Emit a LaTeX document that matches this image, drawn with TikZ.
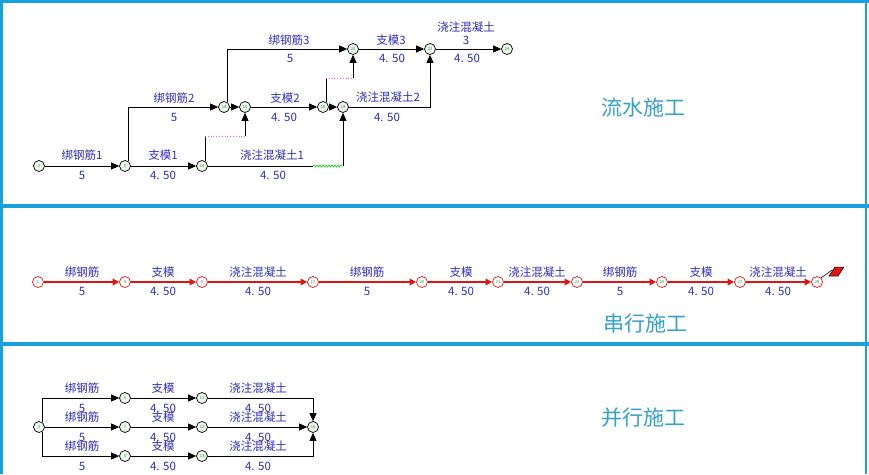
\documentclass[tikz,border=0pt]{standalone}
\usepackage{fontspec}
\newfontfamily\cjk{Noto Sans CJK SC}
\usetikzlibrary{arrows.meta,decorations.pathmorphing}
\definecolor{lblue}{RGB}{45,45,190}
\definecolor{ttl}{RGB}{55,160,200}
\definecolor{frame}{RGB}{25,160,222}
\definecolor{dred}{RGB}{225,20,20}
\definecolor{dpink}{RGB}{235,90,200}
\definecolor{wgreen}{RGB}{60,200,60}
\definecolor{nfill}{RGB}{235,248,235}
\definecolor{ntext}{RGB}{40,140,60}
\begin{document}
\begin{tikzpicture}[x=1pt,y=-1pt,
 ev/.style={circle,draw=black,line width=0.7pt,fill=nfill,minimum size=11pt,inner sep=0pt,font=\cjk\fontsize{4}{4}\selectfont,text=ntext},
 evr/.style={ev,draw=dred,fill=white},
 act/.style={draw=black,line width=0.8pt,-{Triangle[length=8pt,width=7pt]}},
 plain/.style={draw=black,line width=0.8pt},
 ract/.style={draw=dred,line width=2pt,-{Triangle[length=6.5pt,width=6.5pt]}},
 dummy/.style={draw=dpink,line width=0.8pt,dotted},
 wavy/.style={draw=wgreen,line width=0.8pt,decorate,decoration={snake,amplitude=1pt,segment length=3pt}},
 lbl/.style={font=\cjk\fontsize{11.5}{12}\selectfont,text=lblue,inner sep=0pt},
 title/.style={font=\cjk\fontsize{21}{24}\selectfont,text=ttl,inner sep=0pt},
 frm/.style={draw=frame,line width=4pt}
]
\useasboundingbox (0,0) rectangle (869,474);
\fill[white] (0,0) rectangle (869,474);
% frames
\draw[frm,line width=2.7pt] (0,1.3) -- (869,1.3);
\draw[frm] (0,205.5) -- (869,205.5);
\draw[frm] (0,344) -- (869,344);
\draw[frm,line width=3pt] (1.5,0) -- (1.5,474);
\draw[frm,line width=2.5pt] (866,0) -- (866,474);

% ---------- top panel: flow construction ----------
\node[ev] (n2)  at (39,166) {2};
\node[ev] (n5)  at (125,166) {5};
\node[ev] (n10) at (202,166) {10};
\node[ev] (n14) at (224,107) {14};
\node[ev] (n15) at (245,107) {15};
\node[ev] (n18) at (323,107) {18};
\node[ev] (n19) at (343,107) {19};
\node[ev] (n20) at (353,49) {20};
\node[ev] (n22) at (430,49) {22};
\node[ev] (n24) at (507,49) {24};
\coordinate (d1) at (206,136);
\coordinate (d2) at (327,78);
\coordinate (w1) at (313,166);

\draw[act] (n2) -- (n5);
\draw[act] (n5) -- (n10);
\draw[act] (n5.60) |- (n14);
\draw[act] (n14) -- (n15);
\draw[act] (n14.60) |- (n20);
\draw[plain] (n10.60) -- (n10.60 |- d1);
\draw[dummy] (n10.60 |- d1) -- (n15 |- d1);
\draw[act] (n15 |- d1) -- (n15);
\draw[plain] (n10) -- (w1);
\draw[wavy] (w1) -- (n19 |- w1);
\draw[act] (n19 |- w1) -- (n19);
\draw[act] (n15) -- (n18);
\draw[act] (n18) -- (n19);
\draw[plain] (n18.60) -- (n18.60 |- d2);
\draw[dummy] (n18.60 |- d2) -- (n20 |- d2);
\draw[act] (n20 |- d2) -- (n20);
\draw[act] (n19) -| (n22);
\draw[act] (n20) -- (n22);
\draw[act] (n22) -- (n24);

\node[lbl] (t1a) at (82,155) {绑钢筋1};      \node[lbl] (t1b) at (82,175) {5};
\node[lbl] (t2a) at (163,155) {支模1};       \node[lbl] (t2b) at (163,175) {4. 50};
\node[lbl] (t3a) at (174,98) {绑钢筋2};      \node[lbl] (t3b) at (174,117) {5};
\node[lbl] (t4a) at (272,155) {浇注混凝土1}; \node[lbl] (t4b) at (273,175) {4. 50};
\node[lbl] (t5a) at (285,98) {支模2};        \node[lbl] (t5b) at (284,117) {4. 50};
\node[lbl] (t6a) at (289,40) {绑钢筋3};      \node[lbl] (t6b) at (290,58) {5};
\node[lbl] (t7a) at (388,97) {浇注混凝土2};  \node[lbl] (t7b) at (387,117) {4. 50};
\node[lbl] (t8a) at (391,40) {支模3};        \node[lbl] (t8b) at (392,58) {4. 50};
\node[lbl] (t9a) at (466,27) {浇注混凝土};   \node[lbl] (t9c) at (466,40) {3};
\node[lbl] (t9b) at (467,58) {4. 50};
\node[title] (T1) at (643,108) {流水施工};

% ---------- middle panel: serial construction ----------
\foreach \x/\n [count=\i] in {38/1,125/4,202/9,313/17,422/20,498/21,577/23,662/26,740/27,817/28}
  \node[evr] (m\i) at (\x,282) {\n};
\foreach \i [evaluate=\i as \j using int(\i+1)] in {1,...,9}
  \draw[ract] (m\i) -- (m\j);
\foreach \x/\t/\d [count=\i] in {82/绑钢筋/5,163/支模/4. 50,258/浇注混凝土/4. 50,367/绑钢筋/5,461/支模/4. 50,537/浇注混凝土/4. 50,620/绑钢筋/5,701/支模/4. 50,778/浇注混凝土/4. 50}
  {\node[lbl] (ma\i) at (\x,272) {\t}; \node[lbl] (md\i) at (\x,291) {\d};}
\coordinate (pole) at (832,270);
\draw[black,line width=0.6pt] (m10.north east) -- (pole);
\filldraw[fill=dred,draw=black,line width=0.5pt] (829,276) -- (835,267) -- (844,267) -- (838,276) -- cycle;
\node[title] (T2) at (645,324) {串行施工};

% ---------- bottom panel: parallel construction ----------
\node[ev] (b3)  at (39,427) {3};
\node[ev] (b6)  at (125,398) {6};
\node[ev] (b7)  at (125,427) {7};
\node[ev] (b8)  at (125,456) {8};
\node[ev] (b11) at (202,398) {11};
\node[ev] (b12) at (202,427) {12};
\node[ev] (b13) at (202,456) {13};
\node[ev] (b16) at (313,427) {16};
\draw[act] (b3.60) |- (b6);
\draw[act] (b3) -- (b7);
\draw[act] (b3.-60) |- (b8);
\draw[act] (b6) -- (b11);
\draw[act] (b7) -- (b12);
\draw[act] (b8) -- (b13);
\draw[act] (b11) -| (b16);
\draw[act] (b12) -- (b16);
\draw[act] (b13) -| (b16);
\foreach \y [count=\r] in {398,427,456}{
  \node[lbl] (ba\r) at (82,\y-10) {绑钢筋};    \node[lbl] (bb\r) at (82,\y+10) {5};
  \node[lbl] (bc\r) at (163,\y-10) {支模};     \node[lbl] (bd\r) at (163,\y+10) {4. 50};
  \node[lbl] (be\r) at (258,\y-10) {浇注混凝土}; \node[lbl] (bf\r) at (258,\y+10) {4. 50};
}
\node[title] (T3) at (643,418) {并行施工};
\end{tikzpicture}
\end{document}
